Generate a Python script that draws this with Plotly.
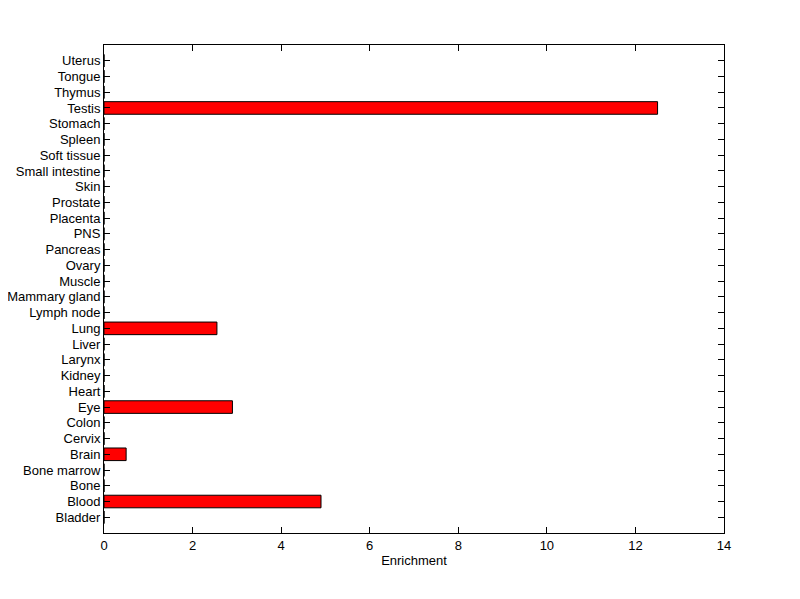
import plotly.graph_objects as go

categories = ["Bladder", "Blood", "Bone", "Bone marrow", "Brain", "Cervix", "Colon", "Eye",
              "Heart", "Kidney", "Larynx", "Liver", "Lung", "Lymph node", "Mammary gland",
              "Muscle", "Ovary", "Pancreas", "PNS", "Placenta", "Prostate", "Skin",
              "Small intestine", "Soft tissue", "Spleen", "Stomach", "Testis", "Thymus",
              "Tongue", "Uterus"]
enrichment = [0, 4.9, 0, 0, 0.5, 0, 0, 2.9,
              0, 0, 0, 0, 2.55, 0, 0,
              0, 0, 0, 0, 0, 0, 0,
              0, 0, 0, 0, 12.5, 0,
              0, 0]
x_ticks = [0, 2, 4, 6, 8, 10, 12, 14]

positions = list(range(1, len(categories) + 1))

fig = go.Figure(go.Bar(
    x=enrichment, y=positions, orientation="h", width=0.8,
    marker=dict(color="#ff0000", line=dict(color="black", width=1)),
))

font = dict(family="Liberation Sans, Arial, Helvetica, sans-serif", size=13, color="black")

fig.update_layout(
    width=800, height=599,
    margin=dict(l=96, r=84, t=37, b=74),
    paper_bgcolor="white", plot_bgcolor="white",
    font=font, showlegend=False,
    xaxis=dict(range=[0, 14], tickvals=x_ticks, ticks="inside", ticklen=6,
               mirror="allticks", showline=True, linecolor="black", linewidth=1,
               showgrid=False, zeroline=False, tickcolor="black", automargin=False,
               title=dict(text="Enrichment", font=font, standoff=4)),
    yaxis=dict(range=[0, len(categories) + 1], tickvals=positions, ticktext=categories,
               ticks="inside", ticklen=6, mirror="allticks", showline=True,
               linecolor="black", linewidth=1, showgrid=False, zeroline=False,
               tickcolor="black", automargin=False),
)

fig.write_html("out.html")
